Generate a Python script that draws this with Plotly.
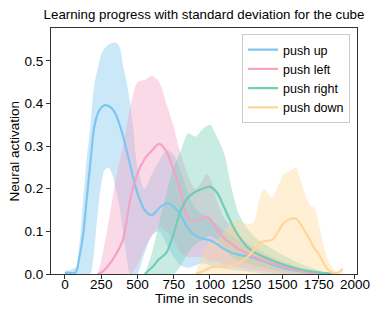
import plotly.graph_objects as go

# ---------------- data ----------------
series_names = ["push up", "push left", "push right", "push down"]

up_t = [0, 25, 50, 75, 100, 125, 150, 175, 200, 225, 250, 275, 300, 325, 350, 375, 400, 425, 450, 475,
        500, 550, 600, 650, 700, 750, 800, 850, 900, 950, 1000, 1050, 1100, 1150, 1200, 1250, 1300,
        1400, 1500, 1600, 1700, 1800, 1850]
up_mean = [0.002, 0.003, 0.002, 0.004, 0.04, 0.09, 0.175, 0.26, 0.34, 0.375, 0.39, 0.396, 0.394, 0.388,
           0.375, 0.352, 0.325, 0.29, 0.255, 0.22, 0.19, 0.15, 0.138, 0.155, 0.166, 0.158, 0.137, 0.106,
           0.09, 0.083, 0.079, 0.07, 0.058, 0.05, 0.045, 0.042, 0.038, 0.026, 0.015, 0.008, 0.003, 0.001, 0.0]
up_upper = [0.01, 0.008, 0.012, 0.015, 0.07, 0.17, 0.27, 0.345, 0.44, 0.48, 0.515, 0.53, 0.538, 0.542,
            0.543, 0.535, 0.49, 0.45, 0.40, 0.33, 0.25, 0.2, 0.235, 0.265, 0.29, 0.28, 0.24, 0.19, 0.155,
            0.14, 0.13, 0.115, 0.1, 0.09, 0.077, 0.066, 0.056, 0.04, 0.026, 0.015, 0.007, 0.002, 0.0]
up_lower = [0, 0, 0, 0, 0, 0, 0, 0.0, 0.05, 0.14, 0.21, 0.245, 0.25, 0.235, 0.2, 0.16, 0.1, 0.04, 0.0,
            0.0, 0.0, 0.05, 0.09, 0.1, 0.07, 0.04, 0.02, 0.015, 0.02, 0.025, 0.02, 0.015, 0.012, 0.01,
            0.008, 0.006, 0.004, 0.0, 0.0, 0.0, 0.0, 0.0, 0.0]

left_t = [225, 250, 300, 350, 400, 450, 500, 550, 600, 650, 700, 750, 800, 850, 900, 950, 975, 1000,
          1050, 1100, 1150, 1200, 1250, 1300, 1400, 1500, 1600, 1700, 1750]
left_mean = [0.0, 0.003, 0.02, 0.045, 0.08, 0.175, 0.235, 0.27, 0.29, 0.305, 0.287, 0.243, 0.19, 0.13,
             0.125, 0.13, 0.134, 0.13, 0.104, 0.083, 0.07, 0.058, 0.049, 0.041, 0.028, 0.018, 0.009,
             0.003, 0.0]
left_upper = [0.0, 0.03, 0.12, 0.22, 0.3, 0.39, 0.45, 0.455, 0.465, 0.45, 0.4, 0.345, 0.28, 0.23, 0.2,
              0.22, 0.235, 0.225, 0.17, 0.13, 0.11, 0.09, 0.075, 0.065, 0.045, 0.03, 0.017, 0.006, 0.0]
left_lower = [0, 0, 0, 0, 0, 0, 0.02, 0.06, 0.09, 0.11, 0.1, 0.08, 0.05, 0.04, 0.04, 0.04, 0.035, 0.03,
              0.03, 0.02, 0.018, 0.015, 0.012, 0.01, 0.005, 0.0, 0.0, 0.0, 0.0]

right_t = [550, 600, 650, 700, 750, 800, 850, 900, 950, 1000, 1050, 1100, 1150, 1200, 1250, 1300, 1400,
           1500, 1600, 1700, 1800, 1850]
right_mean = [0.0, 0.015, 0.035, 0.05, 0.095, 0.15, 0.18, 0.193, 0.2, 0.205, 0.19, 0.155, 0.118, 0.088,
              0.066, 0.052, 0.036, 0.023, 0.013, 0.006, 0.002, 0.0]
right_upper = [0.0, 0.05, 0.12, 0.19, 0.25, 0.29, 0.33, 0.322, 0.34, 0.35, 0.32, 0.28, 0.2, 0.14, 0.11,
               0.09, 0.065, 0.045, 0.028, 0.014, 0.004, 0.0]
right_lower = [0, 0, 0, 0, 0, 0.02, 0.05, 0.07, 0.08, 0.09, 0.08, 0.06, 0.04, 0.03, 0.025, 0.02, 0.012,
               0.006, 0.002, 0.0, 0.0, 0.0]

down_t = [900, 950, 1000, 1050, 1100, 1150, 1200, 1250, 1300, 1340, 1375, 1400, 1430, 1475, 1510, 1545,
          1590, 1620, 1655, 1690, 1720, 1750, 1780, 1815, 1850, 1890, 1915]
down_mean = [0.0, 0.006, 0.015, 0.017, 0.018, 0.019, 0.027, 0.037, 0.055, 0.072, 0.077, 0.078, 0.08,
             0.102, 0.12, 0.128, 0.13, 0.12, 0.1, 0.079, 0.06, 0.047, 0.028, 0.01, 0.003, 0.004, 0.012]
down_upper = [0.0, 0.05, 0.075, 0.08, 0.1, 0.12, 0.125, 0.118, 0.12, 0.175, 0.2, 0.188, 0.18, 0.21,
              0.235, 0.24, 0.25, 0.227, 0.188, 0.162, 0.155, 0.12, 0.071, 0.032, 0.012, 0.005, 0.024]
down_lower = [0.0] * len(down_t)

x_ticks = [0, 250, 500, 750, 1000, 1250, 1500, 1750, 2000]
y_ticks = [0.0, 0.1, 0.2, 0.3, 0.4, 0.5]

# ---------------- styling ----------------
line_colors = ["#7DC6EF", "#F4A3C4", "#72CDB4", "#FFD697"]
fill_colors = ["rgba(125,198,239,0.4)", "rgba(244,163,196,0.4)",
               "rgba(114,205,180,0.38)", "rgba(255,214,151,0.4)"]
FONT = "Liberation Sans, Arial, Helvetica, sans-serif"

# the page body has an 8px default margin: the figure is placed at (8, 8)
OFF = 8
W, H = 382 - OFF, 319 - OFF
L, R, T, B = 51 - OFF, 21, 28 - OFF, 45
PW, PH = W - L - R, H - T - B

data = [
    (up_t, up_mean, up_upper, up_lower),
    (left_t, left_mean, left_upper, left_lower),
    (right_t, right_mean, right_upper, right_lower),
    (down_t, down_mean, down_upper, down_lower),
]

fig = go.Figure()

# bands
for i, (t, m, u, l) in enumerate(data):
    fig.add_trace(go.Scatter(x=t, y=l, mode="lines", line=dict(width=0, shape="spline", smoothing=0.8),
                             showlegend=False, hoverinfo="skip"))
    fig.add_trace(go.Scatter(x=t, y=u, mode="lines", line=dict(width=0, shape="spline", smoothing=0.8),
                             fill="tonexty", fillcolor=fill_colors[i], showlegend=False, hoverinfo="skip"))

# mean lines
for i, (t, m, u, l) in enumerate(data):
    fig.add_trace(go.Scatter(x=t, y=m, mode="lines", name=series_names[i],
                             line=dict(color=line_colors[i], width=2.2, shape="spline", smoothing=0.8)))

def px_x(px):  # window px -> paper x
    return (px - OFF - L) / PW

def px_y(py):  # window px -> paper y
    return (H - B - (py - OFF)) / PH

fig.update_layout(
    width=W, height=H,
    margin=dict(l=L, r=R, t=T, b=B, pad=0),
    paper_bgcolor="white", plot_bgcolor="white",
    font=dict(family=FONT, size=13, color="black"),
    title=dict(text="Learning progress with standard deviation for the cube",
               font=dict(family=FONT, size=13.3, color="black"),
               x=0.5, xref="paper", xanchor="center", y=1 - (14 - OFF) / H, yref="container",
               yanchor="middle"),
    legend=dict(x=px_x(354), y=px_y(34), xanchor="right", yanchor="top", traceorder="normal",
                bgcolor="rgba(255,255,255,0.85)", bordercolor="#CCCCCC", borderwidth=1,
                font=dict(family=FONT, size=12.5, color="black"), tracegroupgap=0),
    showlegend=True,
    annotations=[
        dict(text="Time in seconds", x=0.5, y=px_y(298), xref="paper", yref="paper",
             xanchor="center", yanchor="middle", showarrow=False, font=dict(family=FONT, size=13.5)),
        dict(text="Neural activation", x=px_x(14), y=0.5, xref="paper", yref="paper",
             xanchor="center", yanchor="middle", textangle=-90, showarrow=False,
             font=dict(family=FONT, size=13.5)),
    ],
)

fig.update_xaxes(range=[-96, 2014], tickvals=x_ticks, ticktext=[str(v) for v in x_ticks],
                 showline=True, linecolor="#333333", linewidth=1, mirror=True,
                 ticks="outside", ticklen=4, tickcolor="#333333", tickwidth=1,
                 ticklabelstandoff=-6,
                 showgrid=False, zeroline=False, tickfont=dict(size=13.5))
fig.update_yaxes(range=[0, 0.577], tickvals=y_ticks, ticktext=[f"{v:.1f}" for v in y_ticks],
                 showline=True, linecolor="#333333", linewidth=1, mirror=True,
                 ticks="outside", ticklen=4, tickcolor="#333333", tickwidth=1,
                 showgrid=False, zeroline=False, tickfont=dict(size=13.5))

fig.write_html("out.html")
